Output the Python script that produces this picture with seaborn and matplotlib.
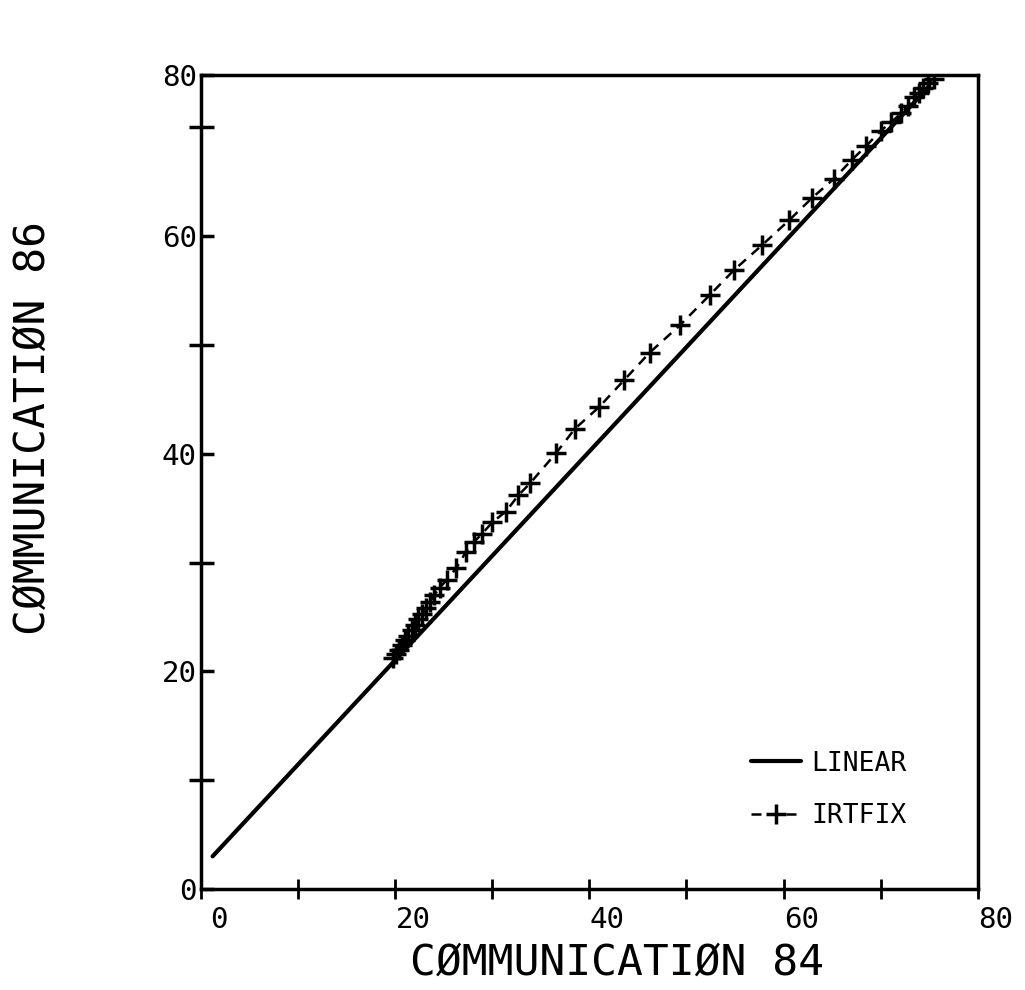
import matplotlib
matplotlib.use("Agg")
import matplotlib.pyplot as plt
import matplotlib.transforms as mtransforms
import seaborn as sns

# ---- data ----
linear_x = [1.2, 75.0]
linear_y = [3.0, 73.8]

irt_x = [19.8, 20.1, 20.4, 20.7, 21.0, 21.3, 21.7, 22.0, 22.4, 22.8, 23.2, 23.6,
         24.0, 24.6, 25.3, 26.3, 27.3, 28.1, 28.9, 30.0, 31.4, 32.7, 33.9, 36.6,
         38.5, 41.0, 43.6, 46.2, 49.3, 52.4, 54.9, 57.8, 60.6, 62.9, 65.2, 67.0,
         68.5, 70.0, 71.1, 72.1, 72.8, 73.4, 73.9, 74.4, 74.9, 75.5]
irt_y = [21.2, 21.6, 22.0, 22.4, 22.9, 23.3, 23.8, 24.3, 24.8, 25.3, 25.8, 26.4,
         27.0, 27.7, 28.4, 29.5, 31.0, 31.9, 32.6, 33.7, 34.7, 36.2, 37.3, 40.1,
         42.3, 44.3, 46.8, 49.3, 51.8, 54.6, 56.9, 59.2, 61.5, 63.5, 65.3, 67.0,
         68.3, 69.7, 70.5, 71.3, 72.0, 72.8, 73.2, 73.6, 74.1, 74.5]

series_labels = ["LINEAR", "IRTFIX"]

x_ticks = [0, 10, 20, 30, 40, 50, 60, 70, 80]
x_ticklabels = ["0", "", "20", "", "40", "", "60", "", "80"]
y_ticks = [0, 20, 40, 60, 74.8]
y_ticklabels = ["0", "20", "40", "60", "80"]
y_minor = [10, 30, 50, 70]

x_title = "CØMMUNICATIØN 84"
y_title = "CØMMUNICATIØN 86"

# ---- style ----
sns.set_theme(style="white")
plt.rcParams["font.family"] = ["DejaVu Sans Mono", "DejaVu Sans"]
plt.rcParams["text.color"] = "black"
plt.rcParams["axes.labelcolor"] = "black"
plt.rcParams["xtick.color"] = "black"
plt.rcParams["ytick.color"] = "black"

fig = plt.figure(figsize=(10.25, 9.9), dpi=100)
ax = fig.add_axes([0.196, 0.102, 0.758, 0.822])

sns.lineplot(x=linear_x, y=linear_y, ax=ax, color="black", linewidth=3,
             label=series_labels[0], estimator=None, sort=False)
sns.lineplot(x=irt_x, y=irt_y, ax=ax, color="black", linewidth=1.8,
             linestyle=(0, (4, 3)), marker="+", markersize=15,
             markeredgewidth=2.5, markeredgecolor="black",
             markerfacecolor="black", label=series_labels[1],
             estimator=None, sort=False)

ax.set_xlim(0, 80)
ax.set_ylim(0, 74.8)

for s in ax.spines.values():
    s.set_color("black")
    s.set_linewidth(2.5)
    s.set_visible(True)

ax.set_xticks(x_ticks)
ax.set_xticklabels(x_ticklabels, fontsize=21, color="black")
ax.set_yticks(y_ticks)
ax.set_yticklabels(y_ticklabels, fontsize=21, color="black")
ax.set_yticks(y_minor, minor=True)

ax.tick_params(axis="x", which="major", direction="inout", length=14,
               width=2, color="black", pad=5, bottom=True)
ax.tick_params(axis="y", which="major", direction="in", length=9,
               width=2.5, color="black", pad=3, left=True)
ax.tick_params(axis="y", which="minor", direction="inout", length=18,
               width=2.5, color="black", left=True)

offset = mtransforms.ScaledTranslation(0.18, 0, fig.dpi_scale_trans)
for lab in ax.get_xticklabels():
    lab.set_transform(lab.get_transform() + offset)

ax.set_xlabel(x_title, fontsize=31, color="black")
ax.xaxis.label.set_va("center")
ax.xaxis.set_label_coords(0.535, -0.091)
ax.set_ylabel(y_title, fontsize=31, color="black")
ax.yaxis.label.set_va("center")
ax.yaxis.set_label_coords(-0.216, 0.566)

ax.grid(False)
leg = ax.legend(loc="upper left", bbox_to_anchor=(0.708, 0.17),
                frameon=False, fontsize=19, handlelength=1.9,
                handletextpad=0.4, labelspacing=1.0, borderpad=0,
                borderaxespad=0, numpoints=1)
for t in leg.get_texts():
    t.set_color("black")

fig.savefig("out.png", dpi=100, facecolor="white")
